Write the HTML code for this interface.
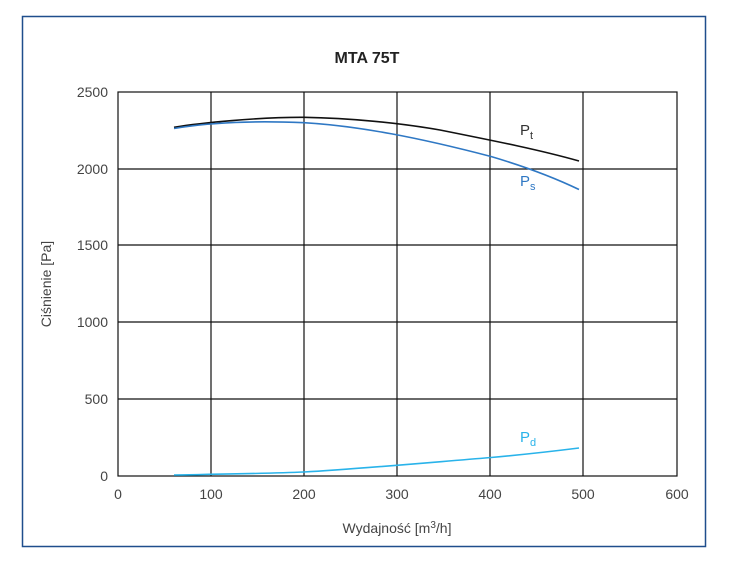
<!DOCTYPE html>
<html><head><meta charset="utf-8"><style>
body{margin:0;background:#fff;}
svg{display:block;font-family:"Liberation Sans",sans-serif;}
</style></head><body>
<svg width="734" height="572" viewBox="0 0 734 572">
<rect x="22.5" y="16.5" width="683" height="530" fill="#fff" stroke="#1f4e8c" stroke-width="1.5"/>
<text x="367" y="63" text-anchor="middle" font-size="16" font-weight="bold" fill="#222">MTA 75T</text>
<g stroke="#111" stroke-width="1.2" fill="none">
<rect x="118" y="92" width="559" height="384"/>
<line x1="211" y1="92" x2="211" y2="476"/><line x1="304" y1="92" x2="304" y2="476"/>
<line x1="397" y1="92" x2="397" y2="476"/><line x1="490" y1="92" x2="490" y2="476"/>
<line x1="583" y1="92" x2="583" y2="476"/>
<line x1="118" y1="169" x2="677" y2="169"/><line x1="118" y1="245" x2="677" y2="245"/>
<line x1="118" y1="322" x2="677" y2="322"/><line x1="118" y1="399" x2="677" y2="399"/>
</g>
<g font-size="14" fill="#444" text-anchor="end">
<text x="108" y="97">2500</text><text x="108" y="174">2000</text><text x="108" y="250">1500</text>
<text x="108" y="327">1000</text><text x="108" y="404">500</text><text x="108" y="481">0</text>
</g>
<g font-size="14" fill="#444" text-anchor="middle">
<text x="118" y="499">0</text><text x="211" y="499">100</text><text x="304" y="499">200</text>
<text x="397" y="499">300</text><text x="490" y="499">400</text><text x="583" y="499">500</text><text x="677" y="499">600</text>
</g>
<text x="397" y="533" text-anchor="middle" font-size="14" fill="#444">Wydajność [m<tspan font-size="10" dy="-5">3</tspan><tspan dy="5">/h]</tspan></text>
<text transform="translate(51,284) rotate(-90)" text-anchor="middle" font-size="14" fill="#444">Ciśnienie [Pa]</text>
<path d="M174,127.3 C200,123 260,117 304,117.3 C350,118 400,123 440,130 C500,142 540,150 579,161" fill="none" stroke="#111" stroke-width="1.6"/>
<path d="M174,128.5 C200,124 240,120 304,122.7 C360,126 420,138 491,156.5 C530,168 555,178 579,189.5" fill="none" stroke="#2f78c4" stroke-width="1.6"/>
<path d="M174,475 C230,474 270,473.5 304,472 C350,469.5 400,465 491,457.5 C530,454 555,451 579,448" fill="none" stroke="#29b3ea" stroke-width="1.6"/>
<text x="520" y="135" font-size="15" fill="#333">P<tspan font-size="11" dy="4">t</tspan></text>
<text x="520" y="186" font-size="15" fill="#2f78c4">P<tspan font-size="11" dy="4">s</tspan></text>
<text x="520" y="442" font-size="15" fill="#29b3ea">P<tspan font-size="11" dy="4">d</tspan></text>
</svg>
</body></html>
